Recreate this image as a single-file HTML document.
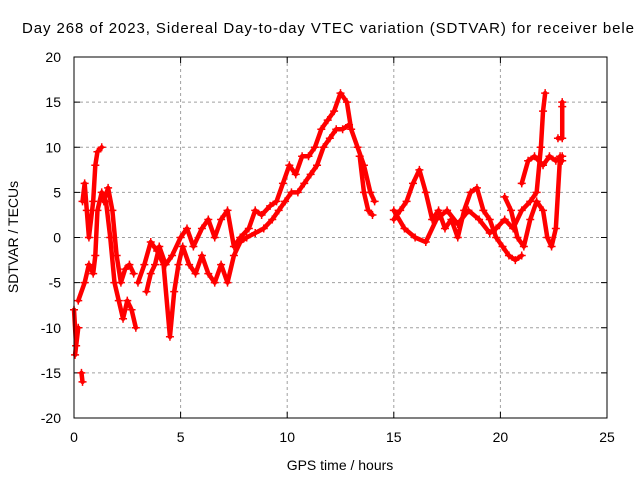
<!DOCTYPE html>
<html><head><meta charset="utf-8"><style>
body{margin:0;background:#fff}
svg{display:block;font-family:"Liberation Sans",sans-serif;font-size:14px}
</style></head><body>
<svg id="chart" width="640" height="480" viewBox="0 0 640 480">
<text x="22" y="33" fill="#000" font-size="15" textLength="612" lengthAdjust="spacing">Day 268 of 2023, Sidereal Day-to-day VTEC variation (SDTVAR) for receiver bele</text>
<g id="grid"></g>
<g id="axes"></g>
<g id="series"></g>
<rect x="74" y="57" width="533" height="361" fill="none" stroke="#000" stroke-width="1"/>
<text x="340" y="470" text-anchor="middle">GPS time / hours</text>
<text transform="translate(18,237) rotate(-90)" text-anchor="middle">SDTVAR / TECUs</text>
</svg>
<script>
const xTicks=[0,5,10,15,20,25];
const yTicks=[-20,-15,-10,-5,0,5,10,15,20];
const segA=[[0,-8],[0.1,-12],[0.2,-10],[0.05,-13]];
const segB=[[0.35,-15],[0.4,-16]];
const segC=[[0.2,-7],[0.5,-5],[0.7,-3],[0.9,-4],[1.0,-2],[1.1,3],[1.3,5],[1.5,4],[1.7,0],[1.9,-5],[2.1,-7],[2.3,-9],[2.5,-7],[2.7,-8],[2.9,-10]];
const segD=[[0.4,4],[0.5,6],[0.6,3],[0.7,0],[0.9,4],[1.0,8],[1.1,9.5],[1.3,10]];
const segE=[[1.4,4],[1.6,5.5],[1.8,3],[2.0,-2],[2.2,-5],[2.4,-3.5],[2.6,-3],[2.8,-4]];
const segF=[[3.4,-6],[3.6,-4],[3.8,-3],[4.0,-1],[4.3,-3],[4.6,-2],[5.0,0],[5.3,1],[5.6,-1],[6.0,1],[6.3,2],[6.6,0],[6.9,2],[7.2,3],[7.5,-1],[7.8,0],[8.2,1],[8.5,3],[8.8,2.5],[9.2,3.5],[9.5,4],[9.8,6],[10.1,8],[10.4,7],[10.7,9],[11.0,9],[11.3,10],[11.6,12],[11.9,13],[12.2,14],[12.5,16],[12.8,15],[13.0,12],[13.3,10],[13.6,8],[13.9,5],[14.1,4]];
const segG=[[3.0,-5],[3.3,-3],[3.6,-0.5],[3.9,-1.5],[4.2,-3],[4.5,-11],[4.7,-6],[4.9,-3],[5.1,-1],[5.4,-3],[5.7,-4],[6.0,-2],[6.3,-4],[6.6,-5],[6.9,-3],[7.2,-5],[7.5,-2],[7.8,-0.5],[8.1,0],[8.5,0.5],[8.9,1],[9.3,2],[9.6,3],[9.9,4],[10.2,5],[10.5,5],[10.8,6],[11.1,7],[11.4,8],[11.7,10],[12.0,11],[12.3,12],[12.6,12],[12.9,12.5]];
const segH=[[13.4,9],[13.6,5],[13.8,3],[14.0,2.5]];
const segI=[[15.0,2],[15.3,3],[15.6,4],[15.9,6],[16.2,7.5],[16.5,5],[16.8,2],[17.1,3],[17.4,1],[17.7,2],[18.0,0],[18.3,3],[18.6,5],[18.9,5.5],[19.2,3],[19.5,2],[19.8,0],[20.1,-1],[20.4,-2],[20.7,-2.5],[21.0,-2]];
const segJ=[[15.0,3],[15.5,1],[16.0,0],[16.5,-0.5],[17.0,2],[17.5,3],[18.0,1.5],[18.5,3],[19.0,2],[19.5,0.5],[19.8,1],[20.2,2],[20.6,1],[21.0,3],[21.4,4],[21.7,5],[21.9,10],[22.0,14],[22.1,16]];
const segK=[[20.2,4.5],[20.5,3],[20.8,0],[21.1,-1],[21.4,2],[21.7,4],[22.0,3],[22.2,0],[22.4,-1],[22.6,1],[22.8,9],[22.9,8.5]];
const segL=[[21.0,6],[21.3,8.5],[21.6,9],[22.0,8],[22.3,9],[22.6,8.5],[22.9,9]];
const segM=[[22.7,11],[22.9,11],[22.9,14.5],[22.9,15]];
const segments=[segA,segB,segC,segD,segE,segF,segG,segH,segI,segJ,segK,segL,segM];
const NS="http://www.w3.org/2000/svg";
const X0=74,X1=607,Y0=418,Y1=57;
function xs(t){return X0+(t-0)/(25-0)*(X1-X0);}
function ys(v){return Y0-(v+20)/40*(Y0-Y1);}
function mk(tag,attrs,parent){const e=document.createElementNS(NS,tag);for(const k in attrs)e.setAttribute(k,attrs[k]);parent.appendChild(e);return e;}
const grid=document.getElementById('grid'),axes=document.getElementById('axes'),ser=document.getElementById('series');
xTicks.forEach(t=>{const x=xs(t);
 if(t>0&&t<25){const g=mk('line',{x1:x,x2:x,y1:Y1,y2:Y0,stroke:'#a0a0a0','stroke-dasharray':'3,3'},grid);}
 const tk=mk('line',{x1:x,x2:x,y1:Y0,y2:Y0-6,stroke:'#000'},axes);
 const tk2=mk('line',{x1:x,x2:x,y1:Y1,y2:Y1+6,stroke:'#000'},axes);
 const l=mk('text',{x:x,y:Y0+24,'text-anchor':'middle',fill:'#000'},axes);l.textContent=t;});
yTicks.forEach(v=>{const y=ys(v);
 if(v>-20&&v<20){const g=mk('line',{x1:X0,x2:X1,y1:y,y2:y,stroke:'#a0a0a0','stroke-dasharray':'3,3'},grid);}
 const tk=mk('line',{x1:X0,x2:X0+6,y1:y,y2:y,stroke:'#000'},axes);
 const tk2=mk('line',{x1:X1,x2:X1-6,y1:y,y2:y,stroke:'#000'},axes);
 const l=mk('text',{x:X0-13,y:y+5,'text-anchor':'end',fill:'#000'},axes);l.textContent=v;});
segments.forEach(seg=>{
 const p=mk('polyline',{points:seg.map(d=>xs(d[0])+','+ys(d[1])).join(' '),fill:'none',stroke:'#f00','stroke-width':4.5,'stroke-linejoin':'round','stroke-linecap':'round'},ser);
 
 
 seg.forEach(d=>{const x=xs(d[0]),y=ys(d[1]);
  const m=mk('path',{d:`M${x-4},${y}H${x+4}M${x},${y-4}V${y+4}`,stroke:'#f00','stroke-width':1.5},ser);
  
  });
});
</script>
</body></html>
